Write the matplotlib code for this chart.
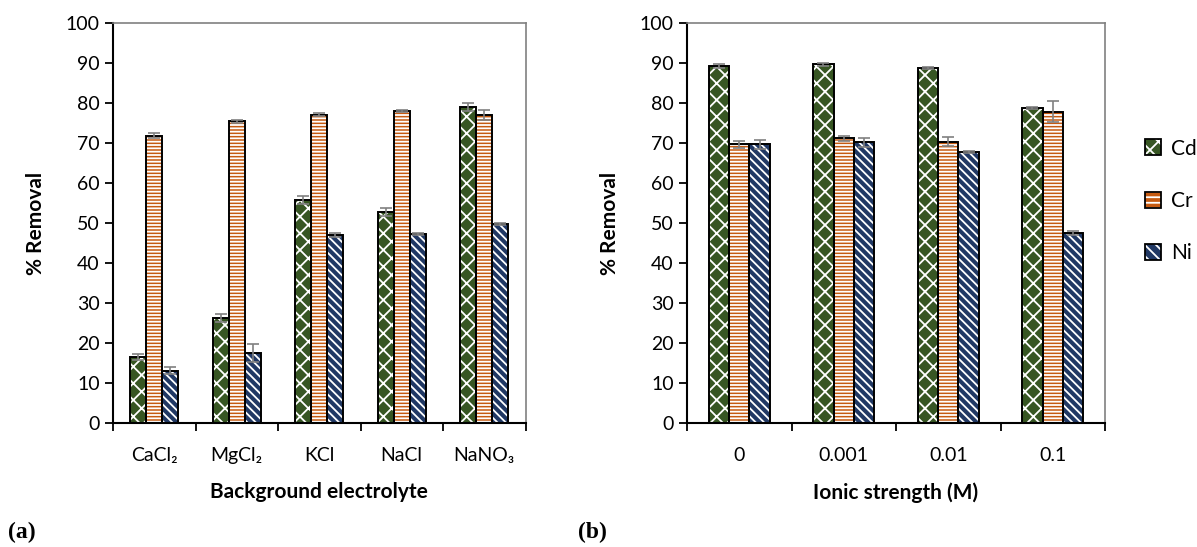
import matplotlib.pyplot as plt
import numpy as np

plt.rcParams['font.family'] = ['Lato', 'DejaVu Sans']
plt.rcParams['hatch.linewidth'] = 1.3

# panel (a): background electrolyte
electrolytes = ['CaCl\u2082', 'MgCl\u2082', 'KCl', 'NaCl', 'NaNO\u2083']
cd_a = [16.6, 26.2, 55.7, 52.7, 78.9]
cr_a = [71.8, 75.4, 77.0, 78.0, 77.0]
ni_a = [13.1, 17.5, 47.0, 47.2, 49.7]
cd_a_err = [0.8, 1.0, 1.0, 1.0, 1.0]
cr_a_err = [0.6, 0.4, 0.4, 0.3, 1.2]
ni_a_err = [0.9, 2.2, 0.4, 0.3, 0.3]

# panel (b): ionic strength
strengths = ['0', '0.001', '0.01', '0.1']
cd_b = [89.2, 89.6, 88.7, 78.7]
cr_b = [69.6, 71.1, 70.3, 77.8]
ni_b = [69.6, 70.1, 67.7, 47.6]
cd_b_err = [0.4, 0.4, 0.3, 0.3]
cr_b_err = [0.8, 0.7, 1.1, 2.6]
ni_b_err = [1.2, 1.1, 0.2, 0.5]

metals = ['Cd', 'Cr', 'Ni']
colors = ['#375623', '#C55A11', '#203864']
hatches = ['xx', '-----', '\\\\\\\\']

fig = plt.figure(figsize=(11.97, 5.47), dpi=100)
ax1 = fig.add_axes([113/1197, 1-423.3/547, 412.5/1197, 400.6/547])
ax2 = fig.add_axes([687/1197, 1-423.3/547, 418/1197, 400.6/547])


def draw(ax, cats, vals, errs, xlabel):
    x = np.arange(len(cats))
    w = 0.195
    for i, (v, e) in enumerate(zip(vals, errs)):
        pos = x + (i - 1) * w
        # white hatch on the coloured fill, then a black outline on top
        ax.bar(pos, v, w, facecolor=colors[i], edgecolor='white',
               linewidth=0, hatch=hatches[i], zorder=2)
        ax.bar(pos, v, w, facecolor='none', edgecolor='black',
               linewidth=1.4, zorder=2.5)
        ax.errorbar(pos, v, yerr=e, fmt='none', ecolor='#808080',
                    elinewidth=1.2, capsize=4, capthick=1.2, zorder=3)
    ax.set_xlim(-0.5, len(cats) - 0.5)
    ax.set_ylim(0, 100)
    ax.set_yticks(range(0, 101, 10))
    ax.set_xticks(np.arange(len(cats) + 1) - 0.5)
    ax.set_xticklabels([])
    ax.set_xticks(x, minor=True)
    ax.set_xticklabels(cats, minor=True, fontsize=14)
    ax.tick_params(axis='x', which='minor', length=0, pad=17)
    ax.tick_params(axis='x', which='major', length=6, width=1.3, direction='out')
    ax.tick_params(axis='y', length=6, width=1.3, labelsize=14)
    for s in ['left', 'bottom']:
        ax.spines[s].set_linewidth(1.5)
        ax.spines[s].set_color('black')
    for s in ['top', 'right']:
        ax.spines[s].set_linewidth(1.2)
        ax.spines[s].set_color('#808080')
    ax.set_ylabel('% Removal', fontsize=15, fontweight='bold', labelpad=14)
    ax.set_xlabel(xlabel, fontsize=15, fontweight='bold', labelpad=13)


draw(ax1, electrolytes, [cd_a, cr_a, ni_a], [cd_a_err, cr_a_err, ni_a_err],
     'Background electrolyte')
draw(ax2, strengths, [cd_b, cr_b, ni_b], [cd_b_err, cr_b_err, ni_b_err],
     'Ionic strength (M)')

# legend keys: hatched fill with white lines, outline drawn over it
handles = []
for i in range(3):
    fill = plt.Rectangle((0, 0), 1, 1, facecolor=colors[i], edgecolor='white',
                         linewidth=0, hatch=hatches[i][:3])
    edge = plt.Rectangle((0, 0), 1, 1, facecolor='none', edgecolor='black',
                         linewidth=1.3)
    handles.append((fill, edge))
ax2.legend(handles, metals, loc='center left', bbox_to_anchor=(1.07, 0.555),
           frameon=False, fontsize=15, handlelength=0.8, handleheight=0.8,
           labelspacing=1.55, handletextpad=0.45, borderpad=0)

fig.text(8/1197, 1-532/547, '(a)', fontsize=17, fontweight='bold',
         family='Liberation Serif', va='center')
fig.text(578/1197, 1-532/547, '(b)', fontsize=17, fontweight='bold',
         family='Liberation Serif', va='center')

fig.savefig('out.png', dpi=100)
